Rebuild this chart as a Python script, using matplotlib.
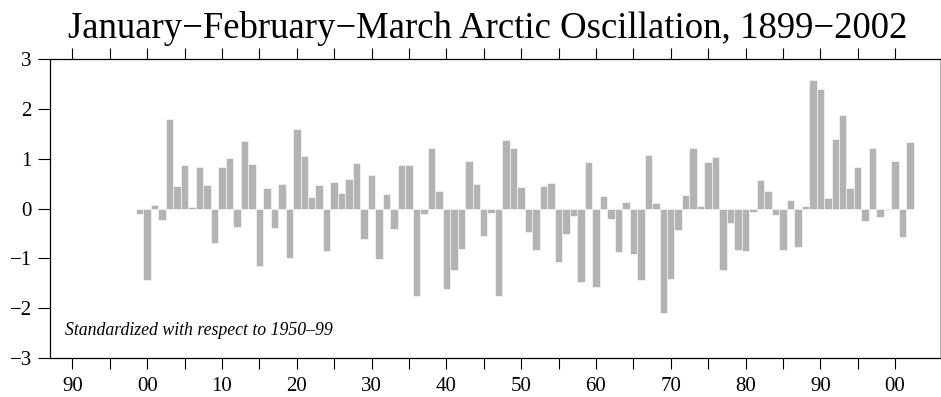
import numpy as np
import matplotlib.pyplot as plt
from matplotlib.ticker import FuncFormatter

# JFM Arctic Oscillation index, 1899-2002 (standardized wrt 1950-99)
years = np.arange(1899, 2003)
ao = [
    -0.12, -1.43, 0.07, -0.23, 1.80, 0.46, 0.87, 0.04, 0.83, 0.48,   # 1899-1908
    -0.69, 0.83, 1.02, -0.37, 1.36, 0.89, -1.16, 0.42, -0.40, 0.50,  # 1909-1918
    -0.99, 1.60, 1.05, 0.23, 0.48, -0.85, 0.54, 0.31, 0.60, 0.91,    # 1919-1928
    -0.62, 0.68, -1.02, 0.29, -0.42, 0.87, 0.87, -1.76, -0.11, 1.22, # 1929-1938
    0.36, -1.62, -1.23, -0.81, 0.95, 0.50, -0.56, -0.09, -1.76, 1.38, # 1939-1948
    1.22, 0.44, -0.48, -0.83, 0.46, 0.52, -1.07, -0.52, -0.15, -1.48, # 1949-1958
    0.93, -1.58, 0.26, -0.21, -0.88, 0.13, -0.92, -1.44, 1.08, 0.11,  # 1959-1968
    -2.09, -1.41, -0.44, 0.27, 1.22, 0.05, 0.93, 1.04, -1.23, -0.29,  # 1969-1978
    -0.83, -0.85, -0.07, 0.58, 0.36, -0.13, -0.83, 0.17, -0.78, 0.06, # 1979-1988
    2.58, 2.40, 0.21, 1.39, 1.87, 0.42, 0.83, -0.25, 1.22, -0.17,     # 1989-1998
    -0.02, 0.95, -0.58, 1.34,                                          # 1999-2002
]

plt.rcParams['font.family'] = ['Liberation Serif', 'DejaVu Serif']

fig = plt.figure(figsize=(9.41, 3.97), dpi=100)
ax = fig.add_axes([0.0531, 0.0982, 0.9458, 0.7532])

ax.bar(years, ao, width=1.0, color='#b3b3b3', edgecolor='white', linewidth=0.4)

ax.set_xlim(1887, 2006)
ax.set_ylim(-3, 3)

# ticks every 5 years, labels every 10, only 1890-2000
xt = np.arange(1890, 2001, 5)
ax.set_xticks(xt)
ax.set_xticklabels(['%02d' % (y % 100) if y % 10 == 0 else '' for y in xt])
ax.set_yticks(range(-3, 4))
ax.yaxis.set_major_formatter(FuncFormatter(lambda v, p: ('%d' % v).replace('-', '\u2212')))

ax.tick_params(axis='x', direction='out', length=8, width=0.8, top=True,
               labelsize=15, pad=6)
ax.tick_params(axis='y', direction='out', length=9, width=0.8, right=False,
               labelsize=15, pad=4)

for s in ['left', 'bottom', 'top']:
    ax.spines[s].set_linewidth(0.9)
ax.spines['right'].set_color('#b0b0b0')

ax.text(1889, -2.45, 'Standardized with respect to 1950\u201399', fontsize=12.8,
        style='italic', ha='left', va='center')

fig.text(0.518, 0.905, 'January\u2212February\u2212March Arctic Oscillation, 1899\u22122002',
         fontsize=26.5, ha='center', va='baseline')

plt.savefig('out.png', dpi=100)
